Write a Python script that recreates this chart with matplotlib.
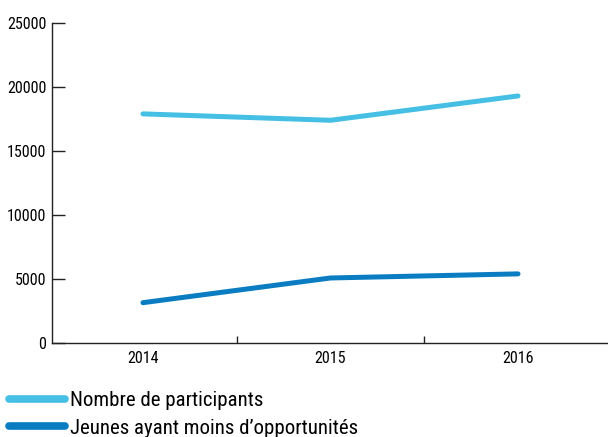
import matplotlib
matplotlib.use('Agg')
import matplotlib.pyplot as plt
from matplotlib.ticker import FixedLocator

plt.rcParams['font.family'] = ['Roboto Condensed', 'Barlow Condensed', 'DejaVu Sans']

# data
annees = ['2014', '2015', '2016']
participants = [17900, 17400, 19300]
jeunes_moins_opp = [3150, 5080, 5400]

couleur_clair = '#45BFE3'
couleur_fonce = '#0A7DC2'

fig = plt.figure(figsize=(6.08, 4.37), dpi=100)
ax = fig.add_axes([52/608, 1-343/437, 1-52/608, 320/437])

x = list(range(len(annees)))
ax.plot(x, participants, color=couleur_clair, lw=3.6, solid_capstyle='round',
        label='Nombre de participants')
ax.plot(x, jeunes_moins_opp, color=couleur_fonce, lw=3.6, solid_capstyle='round',
        label='Jeunes ayant moins d\u2019opportunit\u00e9s')

ax.set_xlim(-0.485, 2.48)
ax.set_ylim(0, 25000)
ax.set_yticks([0, 5000, 10000, 15000, 20000, 25000])
ax.set_xticks(x)
ax.set_xticklabels(annees)
ax.xaxis.set_minor_locator(FixedLocator([0.5, 1.5]))

ax.spines['top'].set_visible(False)
ax.spines['right'].set_visible(False)
for s in ['left', 'bottom']:
    ax.spines[s].set_linewidth(1.0)
    ax.spines[s].set_color('#222222')

ax.tick_params(axis='y', direction='in', length=9, width=1.0, color='#222222',
               labelsize=11.5, pad=4)
ax.tick_params(axis='x', which='major', length=0, labelsize=11.5, pad=6)
ax.tick_params(axis='x', which='minor', direction='in', length=5, width=1.0,
               color='#222222')

leg = fig.legend(loc='upper left', bbox_to_anchor=(9/608, 1-391/437),
                 frameon=False, fontsize=15, handlelength=2.7,
                 handletextpad=0.25, labelspacing=0.42, borderpad=0,
                 borderaxespad=0)
for h in leg.get_lines():
    h.set_linewidth(5.5)
    h.set_solid_capstyle('round')

fig.savefig('out.png', dpi=100)
